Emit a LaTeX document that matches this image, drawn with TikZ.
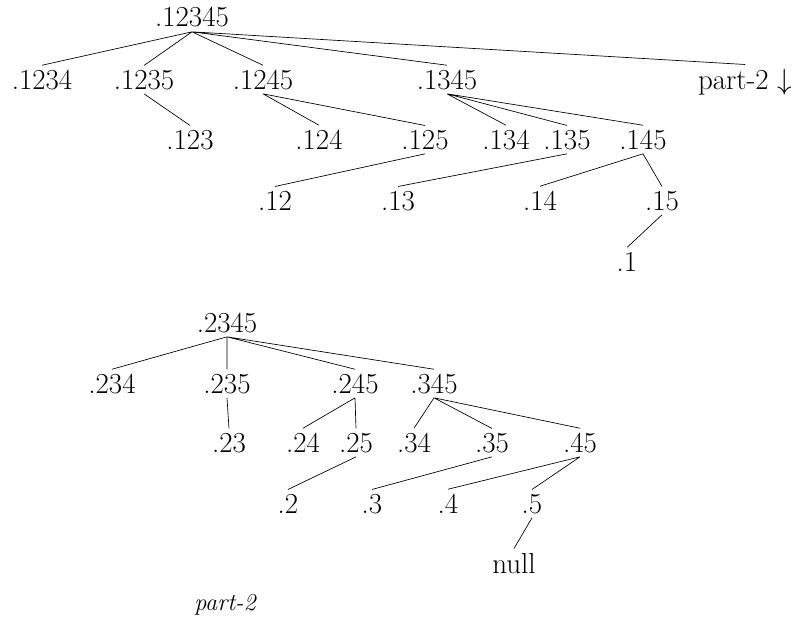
\documentclass[tikz,border=0pt]{standalone}
\begin{document}
\begin{tikzpicture}[x=0.5959pt,y=-0.5959pt,font=\fontsize{17.28}{21}\selectfont,
  lbl/.style={anchor=base,inner sep=2.4pt}]
  \useasboundingbox (0,0) rectangle (793,618);
  % part 1
  \node[lbl] (t12345) at (192,27){.12345};
  \node[lbl] (t1234) at (42,89){.1234};
  \node[lbl] (t1235) at (144,89){.1235};
  \node[lbl] (t1245) at (263,89){.1245};
  \node[lbl] (t1345) at (447,89){.1345};
  \node[lbl] (tpart) at (745,89){part-2 $\downarrow$};
  \node[lbl] (t123) at (190,149){.123};
  \node[lbl] (t124) at (319,149){.124};
  \node[lbl] (t125) at (425,149){.125};
  \node[lbl] (t134) at (506,149){.134};
  \node[lbl] (t135) at (567,149){.135};
  \node[lbl] (t145) at (643,149){.145};
  \node[lbl] (t12) at (275,210){.12};
  \node[lbl] (t13) at (398,210){.13};
  \node[lbl] (t14) at (540,210){.14};
  \node[lbl] (t15) at (662,210){.15};
  \node[lbl] (t1) at (627,271){.1};
  \draw (t12345.south) -- (t1234.north) (t12345.south) -- (t1235.north)
        (t12345.south) -- (t1245.north) (t12345.south) -- (t1345.north)
        (t12345.south) -- (tpart.north);
  \draw (t1235.south) -- (t123.north);
  \draw (t1245.south) -- (t124.north) (t1245.south) -- (t125.north);
  \draw (t1345.south) -- (t134.north) (t1345.south) -- (t135.north)
        (t1345.south) -- (t145.north);
  \draw (t125.south) -- (t12.north);
  \draw (t135.south) -- (t13.north);
  \draw (t145.south) -- (t14.north) (t145.south) -- (t15.north);
  \draw (t15.south) -- (t1.north);
  % part 2
  \node[lbl] (b2345) at (227,332){.2345};
  \node[lbl] (b234) at (112,393){.234};
  \node[lbl] (b235) at (227,393){.235};
  \node[lbl] (b245) at (355,393){.245};
  \node[lbl] (b345) at (434,393){.345};
  \node[lbl] (b23) at (229,452){.23};
  \node[lbl] (b24) at (303,452){.24};
  \node[lbl] (b25) at (356,452){.25};
  \node[lbl] (b34) at (414,452){.34};
  \node[lbl] (b35) at (492,452){.35};
  \node[lbl] (b45) at (580,452){.45};
  \node[lbl] (b2) at (288,513){.2};
  \node[lbl] (b3) at (372,513){.3};
  \node[lbl] (b4) at (448,513){.4};
  \node[lbl] (b5) at (532,513){.5};
  \node[lbl] (bnull) at (514,573){null};
  \draw (b2345.south) -- (b234.north) (b2345.south) -- (b235.north)
        (b2345.south) -- (b245.north) (b2345.south) -- (b345.north);
  \draw (b235.south) -- (b23.north);
  \draw (b245.south) -- (b24.north) (b245.south) -- (b25.north);
  \draw (b345.south) -- (b34.north) (b345.south) -- (b35.north)
        (b345.south) -- (b45.north);
  \draw (b25.south) -- (b2.north);
  \draw (b35.south) -- (b3.north);
  \draw (b45.south) -- (b4.north) (b45.south) -- (b5.north);
  \draw (b5.south) -- (bnull.north);
  \node[lbl,font=\fontsize{14.4}{17}\selectfont\itshape] (cap) at (225,610){part-2};
\end{tikzpicture}
\end{document}
